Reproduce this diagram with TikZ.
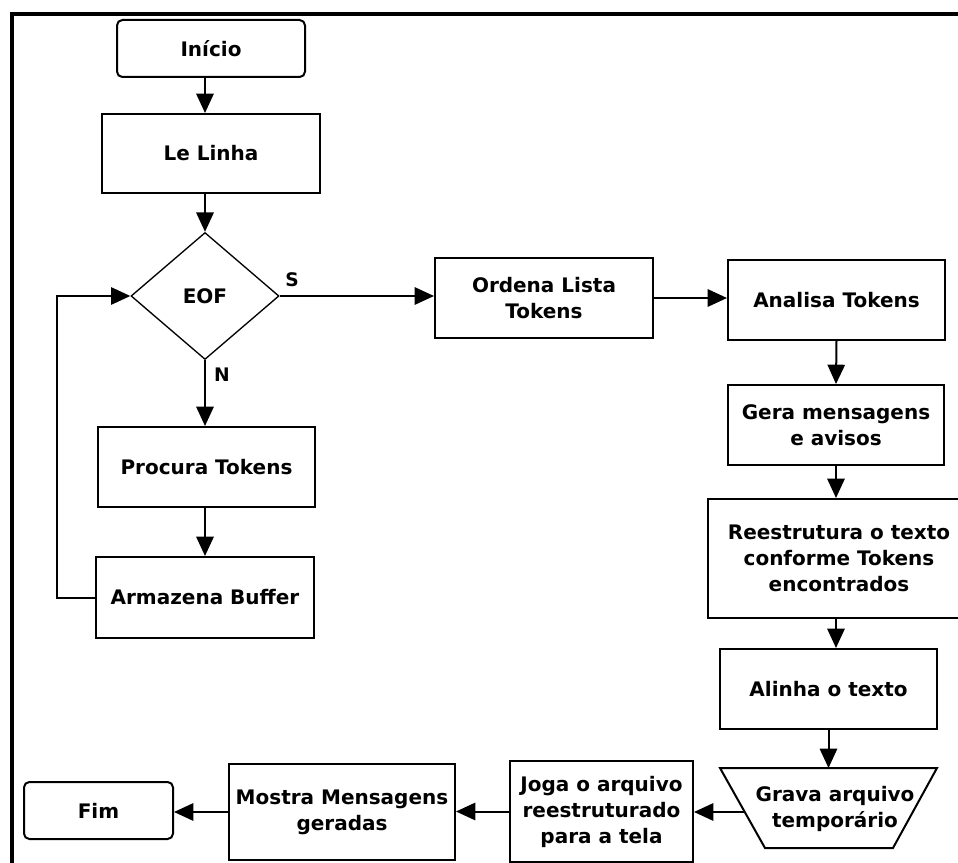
\documentclass[tikz,border=0pt]{standalone}
\usepackage{fontspec}
\setmainfont{DejaVu Sans}
\usetikzlibrary{shapes.geometric,arrows.meta}
\begin{document}
\begin{tikzpicture}[x=0.75pt,y=-0.75pt,
  txt/.style={font=\fontsize{15}{19.5}\selectfont\bfseries, align=center, text=black},
  box/.style={txt, draw, line width=1.5pt, rectangle, inner sep=0pt},
  term/.style={box, rounded corners=4pt},
  sz/.style 2 args={minimum width=#1*0.75pt, minimum height=#2*0.75pt},
  arr/.style={line width=1.5pt, -{Triangle[length=14.5pt,width=13pt]}},
  ln/.style={line width=1.5pt},
  lbl/.style={font=\fontsize{14}{15}\selectfont\bfseries, inner sep=0pt}
]
\useasboundingbox (0,0) rectangle (958,863);
\fill[white] (0,0) rectangle (958,863);
\draw[line width=2.5pt] (12,863) -- (12,14) -- (958,14);

\node[term, sz={188}{57}] (inicio) at (211,48.5) {Início};
\node[box, sz={218}{79}] (lelinha) at (211,153.5) {Le Linha};
\node[diamond, draw, line width=1pt, txt, inner sep=0pt, sz={148}{127}] (eof) at (205,296) {EOF};
\node[box, sz={217}{80}] (procura) at (206.5,467) {Procura Tokens};
\node[box, sz={218}{81}] (armazena) at (205,597.5) {Armazena Buffer};
\node[box, sz={218}{80}] (ordena) at (544,298) {Ordena Lista\\Tokens};
\node[box, sz={217}{80}] (analisa) at (836.5,300) {Analisa Tokens};
\node[box, sz={216}{80}] (gera) at (836,425) {Gera mensagens\\e avisos};
\begin{scope}
\clip (0,0) rectangle (958,863);
\node[box, sz={262}{119}] (reestr) at (839,558.5) {Reestrutura o texto\\conforme Tokens\\encontrados};
\end{scope}
\node[box, sz={217}{80}] (alinha) at (828.5,689) {Alinha o texto};
\coordinate (g1) at (720,768);
\coordinate (g2) at (937,768);
\coordinate (g3) at (893,848);
\coordinate (g4) at (765,848);
\draw[ln] (g1) -- (g2) -- (g3) -- (g4) -- cycle;
\node[txt] (grava) at (835,809) {Grava arquivo\\temporário};
\coordinate (gl) at (745,812);
\node[box, sz={183}{101}] (joga) at (601.5,811.5) {Joga o arquivo\\reestruturado\\para a tela};
\node[box, sz={226}{96}] (mostra) at (342,812) {Mostra Mensagens\\geradas};
\node[term, sz={149}{57}] (fim) at (98.5,810.5) {Fim};

\coordinate (lp) at (57,601);
\node[lbl] (s) at (292,280) {S};
\node[lbl] (n) at (222,375) {N};

\draw[arr] (inicio.south -| eof.north) -- (lelinha.north -| eof.north);
\draw[arr] (lelinha.south -| eof.north) -- (eof.north);
\draw[arr] (eof.south) -- (procura.north -| eof.south);
\draw[arr] (procura.south -| eof.south) -- (armazena.north -| eof.south);
\draw[arr] (armazena.west) -- (armazena.west -| lp) |- (eof.west);
\draw[arr] (eof.east) -- (eof.east -| ordena.west);
\draw[arr] (ordena.east) -- (ordena.east -| analisa.west);
\draw[arr] (analisa.south) -- (gera.north);
\draw[arr] (gera.south) -- (gera.south |- reestr.north);
\draw[arr] (gera.south |- reestr.south) -- (alinha.north -| gera.south);
\draw[arr] (alinha.south) -- (alinha.south |- g1);
\draw[arr] (gl) -- (gl -| joga.east);
\draw[arr] (joga.west) -- (joga.west -| mostra.east);
\draw[arr] (mostra.west) -- (mostra.west -| fim.east);
\end{tikzpicture}
\end{document}
